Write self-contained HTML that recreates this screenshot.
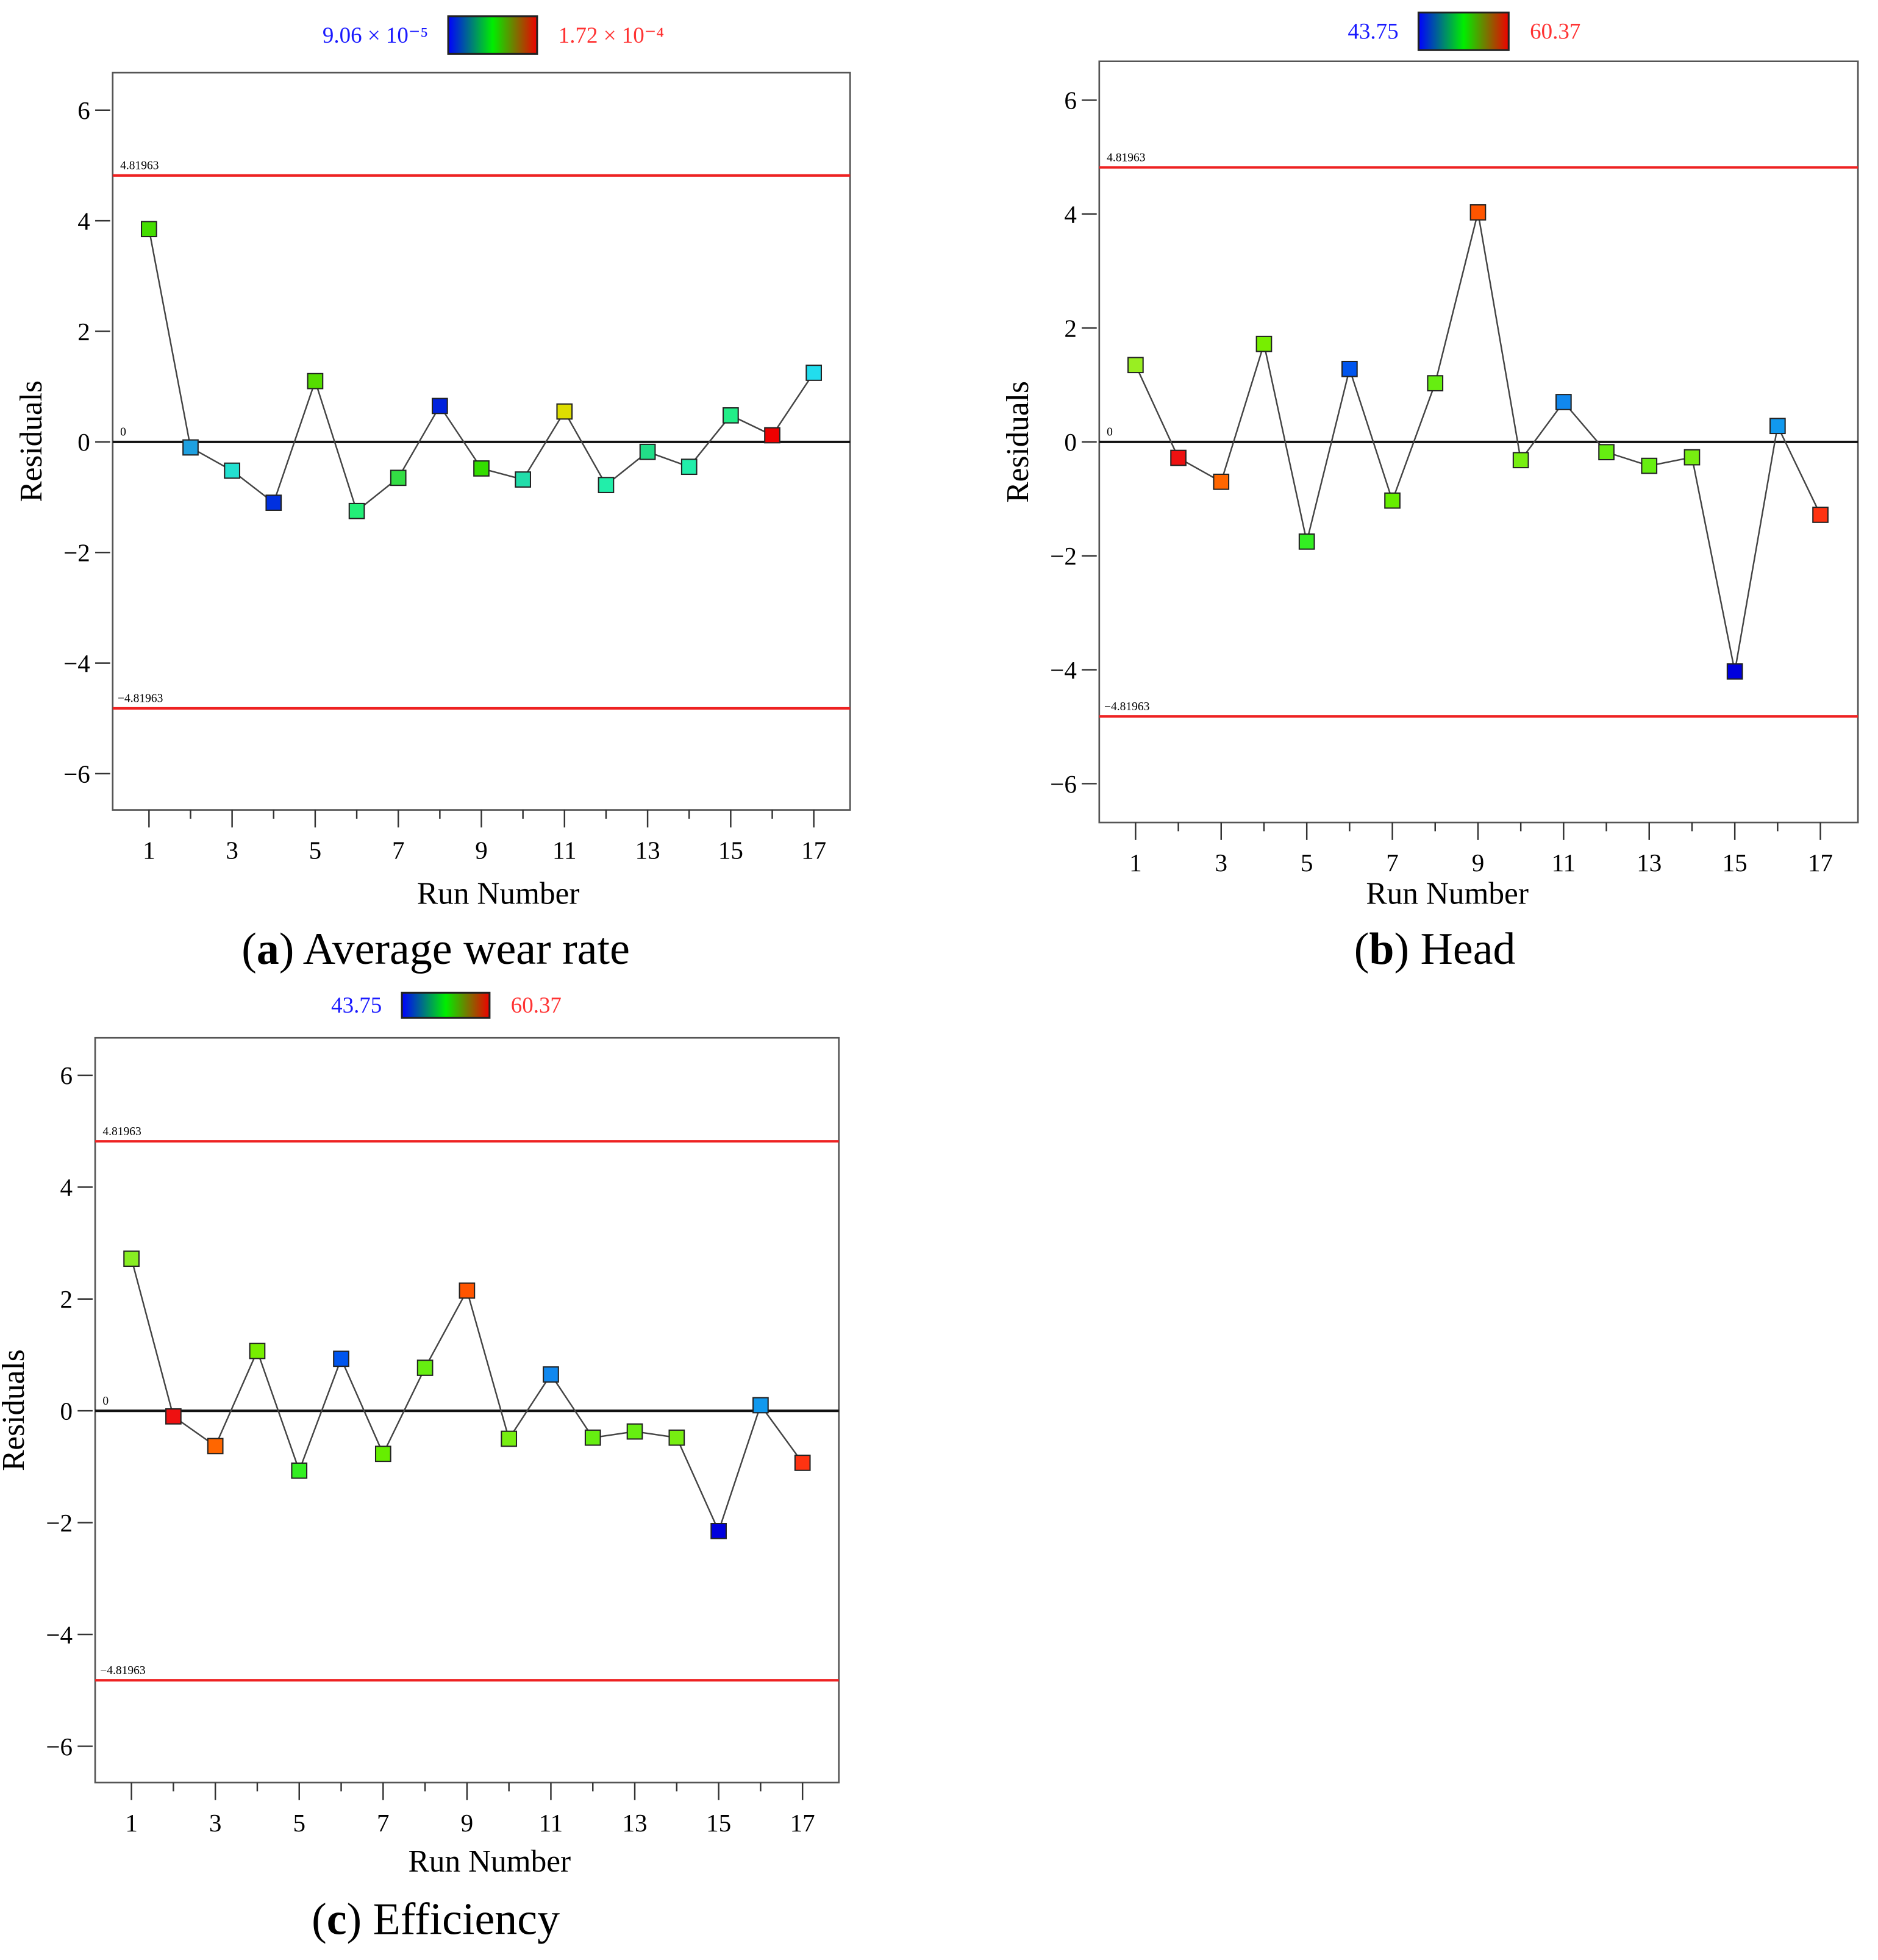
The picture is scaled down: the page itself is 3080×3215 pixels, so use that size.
<!DOCTYPE html>
<html><head><meta charset="utf-8"><style>
html,body{margin:0;padding:0;background:#fff;}
svg{display:block;font-family:"Liberation Serif",serif;}
</style></head><body>
<svg id="root" width="3080" height="3215" viewBox="0 0 1500 1565.7" xmlns="http://www.w3.org/2000/svg">
<defs><linearGradient id="cb" x1="0" x2="1" y1="0" y2="0">
<stop offset="0" stop-color="#0000ff"/><stop offset="0.5" stop-color="#00ee00"/><stop offset="1" stop-color="#ee0000"/></linearGradient></defs>
</svg>
<script>
const runs=[1,2,3,4,5,6,7,8,9,10,11,12,13,14,15,16,17];
const xTickLabels=[1,3,5,7,9,11,13,15,17];
const yTickLabels=[6,4,2,0,-2,-4,-6];
const limitValue=4.81963;
const residA=[3.85,-0.1,-0.52,-1.1,1.1,-1.25,-0.65,0.65,-0.48,-0.68,0.55,-0.78,-0.18,-0.45,0.48,0.12,1.25];
const colorsA=["#44dd00","#1ea0e0","#22e0d0","#0030e0","#55dd00","#22ee77","#33dd44","#0022dd","#33dd00","#22ddaa","#dddd00","#22eeaa","#22dd88","#22eeaa","#22ee88","#ee0000","#22ddee"];
const residB=[1.35,-0.28,-0.7,1.72,-1.75,1.28,-1.03,1.03,4.03,-0.32,0.7,-0.18,-0.42,-0.27,-4.03,0.28,-1.28];
const colorsB=["#99ee22","#ee1111","#ff6600","#77ee00","#33ee22","#0055ee","#66ee00","#66ee11","#ff5500","#77ee11","#1188ee","#66ee11","#66ee11","#77ee11","#0000dd","#1199ee","#ff3311"];
const residC=[2.72,-0.1,-0.63,1.07,-1.07,0.93,-0.77,0.77,2.15,-0.5,0.65,-0.48,-0.37,-0.48,-2.15,0.1,-0.93];
const colorsC=["#88ee22","#ee1111","#ff6600","#77ee00","#33ee22","#0055ee","#66ee00","#66ee11","#ff5500","#77ee11","#1188ee","#66ee11","#66ee11","#77ee11","#0000dd","#1199ee","#ff3311"];

const NS="http://www.w3.org/2000/svg";
const root=document.getElementById('root');
function mk(tag,attrs,parent,text){const e=document.createElementNS(NS,tag);for(const k in attrs)e.setAttribute(k,attrs[k]);if(text!==undefined)e.textContent=text;(parent||root).appendChild(e);return e;}

function panel(cfg){
  const g=mk('g',{});
  
  
  const sx=r=>cfg.x1+(r-1)*(cfg.x17-cfg.x1)/16;
  const sy=v=>cfg.y0-v*(cfg.y0-cfg.y6)/6;
  const cb=mk('rect',{x:cfg.cbX,y:cfg.cbY,width:cfg.cbW,height:cfg.cbH,fill:'url(#cb)',stroke:'#222','stroke-width':1.5},g);
  
  
  const lo=mk('text',{x:cfg.cbX-16,y:cfg.cbY+cfg.cbH/2+6,'text-anchor':'end','font-size':18,fill:'#1a1aff'},g,cfg.lo);
  
  
  const hi=mk('text',{x:cfg.cbX+cfg.cbW+17,y:cfg.cbY+cfg.cbH/2+6,'font-size':18,fill:'#ff3333'},g,cfg.hi);
  
  
  const box=mk('rect',{x:cfg.bx0,y:cfg.by0,width:cfg.bx1-cfg.bx0,height:cfg.by1-cfg.by0,fill:'#fff',stroke:'#555','stroke-width':1.3},g);
  
  
  yTickLabels.forEach(v=>{
    const y=sy(v);
    mk('line',{x1:cfg.bx0-14,x2:cfg.bx0-2,y1:y,y2:y,stroke:'#333','stroke-width':1.2},g);
    const t=mk('text',{x:cfg.bx0-18,y:y+7,'text-anchor':'end','font-size':20},g,v<0?'\u2212'+(-v):String(v));
    
    
  });
  runs.forEach(r=>{
    const x=sx(r);const major=xTickLabels.includes(r);
    mk('line',{x1:x,x2:x,y1:cfg.by1,y2:cfg.by1+(major?14:7),stroke:'#333','stroke-width':1.2},g);
  });
  xTickLabels.forEach(r=>{
    const t=mk('text',{x:sx(r),y:cfg.by1+39,'text-anchor':'middle','font-size':20},g,String(r));
    
    
  });
  [limitValue,-limitValue].forEach(v=>{
    const l=mk('line',{x1:cfg.bx0,x2:cfg.bx1,y1:sy(v),y2:sy(v),stroke:'#ee2222','stroke-width':2},g);
    
    
    const t=mk('text',{x:cfg.bx0+(v>0?6:4),y:sy(v)-5,'font-size':9.5},g,(v>0?'':'\u2212')+limitValue);
    
    
  });
  const z=mk('line',{x1:cfg.bx0,x2:cfg.bx1,y1:sy(0),y2:sy(0),stroke:'#111','stroke-width':2},g);
  
  
  mk('text',{x:cfg.bx0+6,y:sy(0)-5,'font-size':9.5},g,'0');
  const pts=cfg.vals.map((v,i)=>sx(runs[i])+','+sy(v)).join(' ');
  const pl=mk('polyline',{points:pts,fill:'none',stroke:'#444','stroke-width':1.2},g);
  
  
  cfg.vals.forEach((v,i)=>{
    const m=mk('rect',{x:sx(runs[i])-6,y:sy(v)-6,width:12,height:12,fill:cfg.colors[i],stroke:'#222','stroke-width':1},g);
    
    
  });
  const yt=mk('text',{transform:`translate(${cfg.bx0-57},${(cfg.by0+cfg.by1)/2}) rotate(-90)`,'text-anchor':'middle','font-size':25},g,'Residuals');
  
  
  const xt=mk('text',{x:cfg.xtX,y:cfg.xtY,'text-anchor':'middle','font-size':25},g,'Run Number');
  
  
  const cap=mk('text',{x:cfg.capX,y:cfg.capY,'text-anchor':'middle','font-size':36},g);
  
  
  mk('tspan',{},cap,'(');
  mk('tspan',{'font-weight':'bold'},cap,cfg.letter);
  mk('tspan',{},cap,') '+cfg.caption);
}

panel({name:'panel-a-average-wear-rate',bx0:90,bx1:679,by0:58,by1:647,x1:119,x17:650,y0:353,y6:88,vals:residA,colors:colorsA,
  cbX:358,cbY:13,cbW:71,cbH:30,lo:'9.06 \u00d7 10\u207b\u2075',hi:'1.72 \u00d7 10\u207b\u2074',xtX:398,xtY:722,capX:348,capY:770,letter:'a',caption:'Average wear rate'});
panel({name:'panel-b-head',bx0:878,bx1:1484,by0:49,by1:657,x1:907,x17:1454,y0:353,y6:80,vals:residB,colors:colorsB,
  cbX:1133,cbY:10,cbW:72,cbH:30,lo:'43.75',hi:'60.37',xtX:1156,xtY:722,capX:1146,capY:770,letter:'b',caption:'Head'});
panel({name:'panel-c-efficiency',bx0:76,bx1:670,by0:829,by1:1424,x1:105,x17:641,y0:1127,y6:859,vals:residC,colors:colorsC,
  cbX:321,cbY:793,cbW:70,cbH:20,lo:'43.75',hi:'60.37',xtX:391,xtY:1495,capX:348,capY:1545,letter:'c',caption:'Efficiency'});
</script>
</body></html>
